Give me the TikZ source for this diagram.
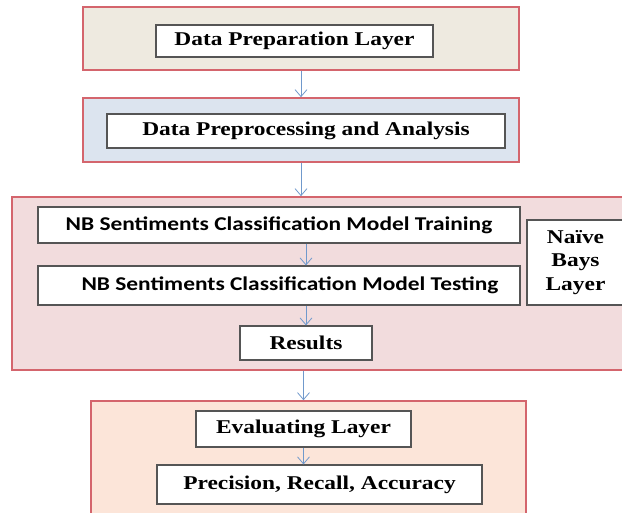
\documentclass[tikz,border=0pt]{standalone}
\usepackage{fontspec}
\setmainfont{Liberation Serif}[FakeStretch=1.2]
\newfontfamily\nbfont{Carlito}[FakeStretch=1.2]
\usetikzlibrary{arrows.meta}

\definecolor{layerred}{HTML}{D4656D}
\definecolor{boxgray}{HTML}{555555}
\definecolor{flowblue}{HTML}{7099CC}
\definecolor{prepfill}{HTML}{EEEAE0}
\definecolor{procfill}{HTML}{DCE4EF}
\definecolor{nbfill}{HTML}{F2DCDD}
\definecolor{evalfill}{HTML}{FCE5D9}

\begin{document}
\begin{tikzpicture}[x=1pt,y=-1pt,
    layer/.style={draw=layerred, line width=1.6pt, inner sep=0pt},
    box/.style={draw=boxgray, fill=white, line width=1.1pt, inner sep=0pt,
        font=\bfseries\fontsize{19.5}{23.5}\selectfont},
    nbbox/.style={box, font=\nbfont\bfseries\fontsize{19.5}{23}\selectfont},
    flow/.style={-{Straight Barb[length=7pt,width=12pt]}, draw=flowblue, line width=0.8pt}]
    \clip (0,0) rectangle (622,513);
    \fill[white] (0,0) rectangle (622,513);
    % layers
    \node[layer, fill=prepfill, minimum width=436pt, minimum height=63pt] (prepLayer) at (301,38.5) {};
    \node[layer, fill=procfill, minimum width=436pt, minimum height=64pt] (procLayer) at (301,130) {};
    \node[layer, fill=nbfill, minimum width=628pt, minimum height=173pt] (nbLayer) at (326,283.5) {};
    \node[layer, fill=evalfill, minimum width=435pt, minimum height=130pt] (evalLayer) at (308.5,466) {};
    % boxes
    \node[box, minimum width=277pt, minimum height=32pt] (prep) at (294.5,41) {Data Preparation Layer};
    \node[box, minimum width=398pt, minimum height=34pt] (proc) at (306,131) {Data Preprocessing and Analysis};
    \node[nbbox, minimum width=482pt, minimum height=36pt] (train) at (279,225) {NB Sentiments Classification Model Training\hspace{20pt}};
    \node[nbbox, minimum width=482pt, minimum height=39pt] (test) at (279,285.5) {\hspace{22pt}NB Sentiments Classification Model Testing};
    \node[box, minimum width=97pt, minimum height=85pt, align=center] (naive) at (575.5,262.5) {Naïve\\Bays\\Layer};
    \node[box, minimum width=132pt, minimum height=34pt] (results) at (306,343) {Results};
    \node[box, minimum width=215pt, minimum height=36pt] (eval) at (303.5,429) {Evaluating Layer};
    \node[box, minimum width=325pt, minimum height=39pt] (prec) at (319.5,484.5) {Precision, Recall, Accuracy};
    % arrows
    \draw[flow] (prepLayer) -- (procLayer);
    \draw[flow] (procLayer.south) -- (procLayer.south |- nbLayer.north);
    \draw[flow] (results |- train.south) -- (results |- test.north);
    \draw[flow] (results |- test.south) -- (results.north);
    \draw[flow] (eval |- nbLayer.south) -- (eval |- evalLayer.north);
    \draw[flow] (eval.south) -- (eval.south |- prec.north);
\end{tikzpicture}
\end{document}
